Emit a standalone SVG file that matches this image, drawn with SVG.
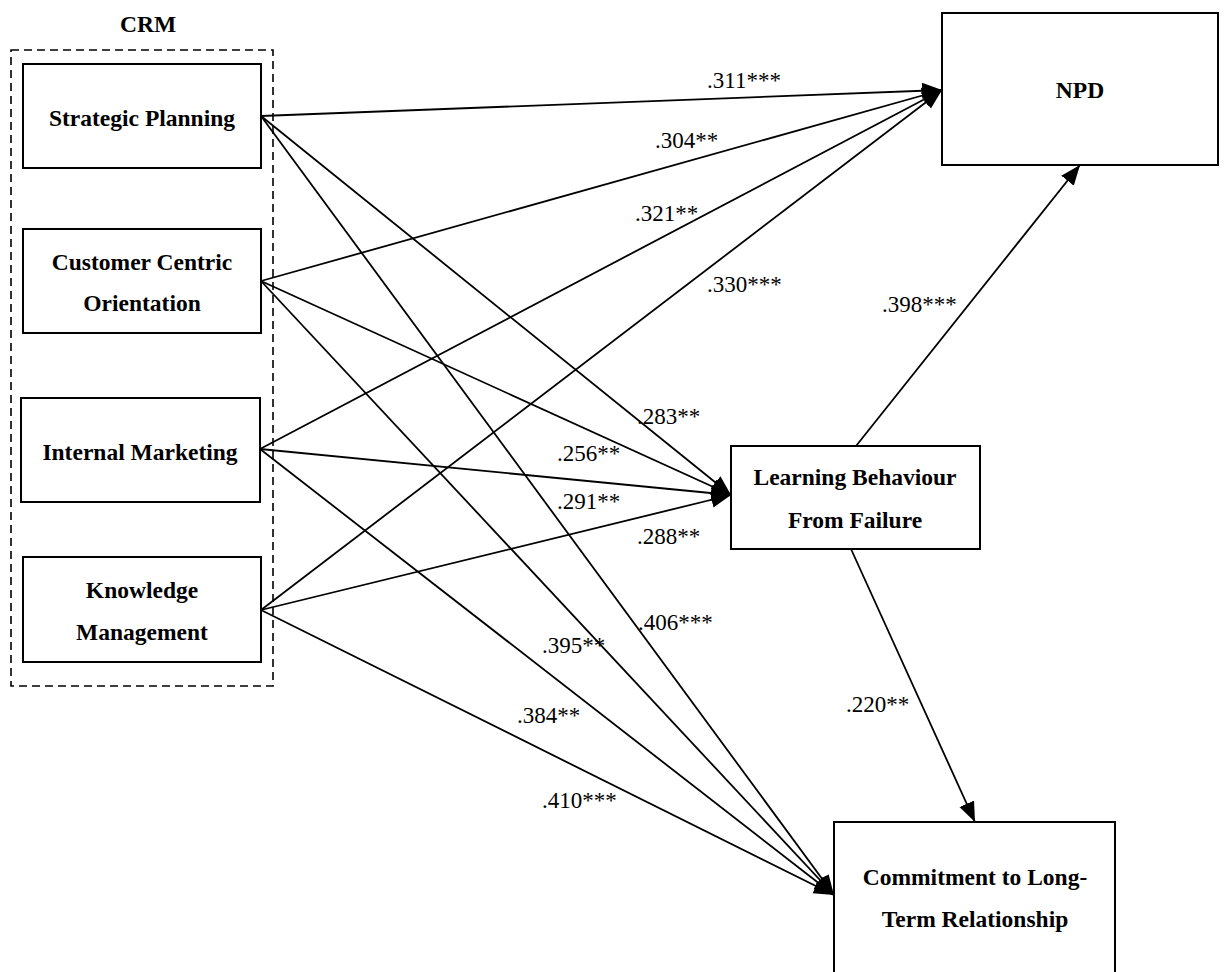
<svg xmlns="http://www.w3.org/2000/svg" width="1232" height="972" viewBox="0 0 1232 972">
<style>
.box{fill:#fff;stroke:#000;stroke-width:2}
.nt{font-family:"Liberation Serif","Times New Roman",serif;font-weight:bold;font-size:23.5px;fill:#000;text-anchor:middle}
.lb{font-family:"Liberation Serif","Times New Roman",serif;font-size:23px;fill:#000}
.cn line{stroke:#000;stroke-width:1.8;fill:none;marker-end:url(#ah)}
</style>
<defs>
<marker id="ah" markerUnits="userSpaceOnUse" markerWidth="22" markerHeight="18" refX="20" refY="8" orient="auto">
<path d="M0,0 L20,8 L0,16 z" fill="#000"/>
</marker>
</defs>
<rect width="1232" height="972" fill="#fff"/>
<g id="crm">
<rect x="11" y="50" width="262" height="636" fill="none" stroke="#000" stroke-width="1.6" stroke-dasharray="8,5"/>
<text class="nt" x="148" y="32">CRM</text>
</g>
<g class="cn" id="connectors">
<line x1="261" y1="116" x2="942" y2="90"/>
<line x1="261" y1="116" x2="731" y2="495"/>
<line x1="261" y1="116" x2="834" y2="895"/>
<line x1="261" y1="281" x2="942" y2="90"/>
<line x1="261" y1="281" x2="731" y2="495"/>
<line x1="261" y1="281" x2="834" y2="895"/>
<line x1="260" y1="449" x2="942" y2="90"/>
<line x1="260" y1="449" x2="731" y2="495"/>
<line x1="260" y1="449" x2="834" y2="895"/>
<line x1="261" y1="610" x2="942" y2="90"/>
<line x1="261" y1="610" x2="731" y2="495"/>
<line x1="261" y1="610" x2="834" y2="895"/>
<line x1="856" y1="446" x2="1080" y2="165"/>
<line x1="851" y1="549" x2="975" y2="822"/>
</g>
<g id="labels">
<text class="lb" x="707" y="88">.311***</text>
<text class="lb" x="655" y="148">.304**</text>
<text class="lb" x="635" y="221">.321**</text>
<text class="lb" x="707" y="292">.330***</text>
<text class="lb" x="882" y="312">.398***</text>
<text class="lb" x="637" y="424">.283**</text>
<text class="lb" x="557" y="461">.256**</text>
<text class="lb" x="557" y="509">.291**</text>
<text class="lb" x="637" y="544">.288**</text>
<text class="lb" x="638" y="630">.406***</text>
<text class="lb" x="542" y="653">.395**</text>
<text class="lb" x="517" y="723">.384**</text>
<text class="lb" x="542" y="808">.410***</text>
<text class="lb" x="846" y="712">.220**</text>
</g>
<g id="sp">
<rect class="box" x="23" y="64" width="238" height="104"/>
<text class="nt" x="142" y="126">Strategic Planning</text>
</g>
<g id="cco">
<rect class="box" x="23" y="229" width="238" height="104"/>
<text class="nt" x="142" y="270">Customer Centric</text>
<text class="nt" x="142" y="311">Orientation</text>
</g>
<g id="im">
<rect class="box" x="21" y="398" width="239" height="104"/>
<text class="nt" x="140" y="460">Internal Marketing</text>
</g>
<g id="km">
<rect class="box" x="23" y="557" width="238" height="105"/>
<text class="nt" x="142" y="598">Knowledge</text>
<text class="nt" x="142" y="640">Management</text>
</g>
<g id="npd">
<rect class="box" x="942" y="13" width="276" height="152"/>
<text class="nt" x="1080" y="98">NPD</text>
</g>
<g id="lbf">
<rect class="box" x="731" y="446" width="249" height="103"/>
<text class="nt" x="855" y="485">Learning Behaviour</text>
<text class="nt" x="855" y="528">From Failure</text>
</g>
<g id="cltr">
<rect class="box" x="834" y="822" width="281" height="160"/>
<text class="nt" x="975" y="885">Commitment to Long-</text>
<text class="nt" x="975" y="927">Term Relationship</text>
</g>
</svg>
